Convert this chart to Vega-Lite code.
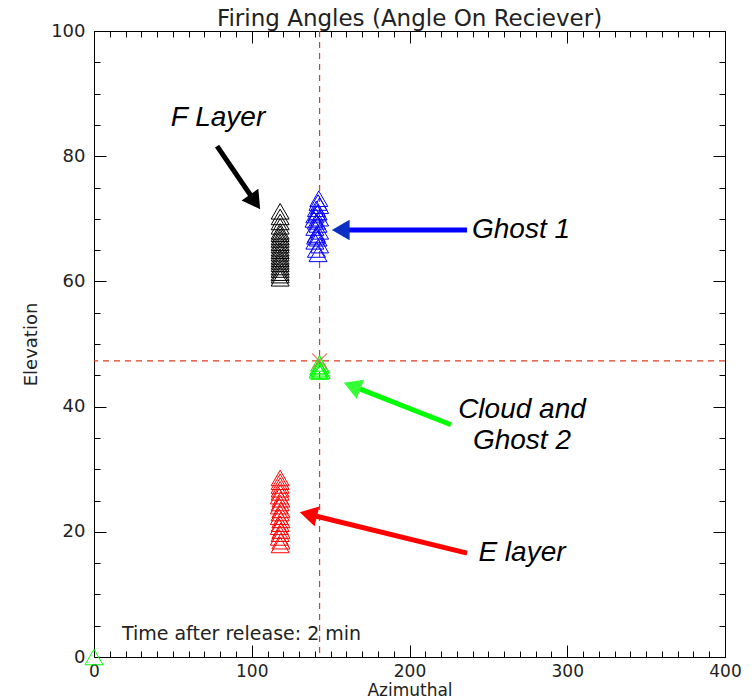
{
  "$schema": "https://vega.github.io/schema/vega-lite/v6.json",
  "width": 631,
  "height": 626,
  "autosize": {"type": "none"},
  "padding": {"left": 94, "top": 31, "right": 31, "bottom": 40},
  "background": "white",
  "title": {"text": "Firing Angles (Angle On Reciever)", "font": "DejaVu Sans", "fontSize": 23, "fontWeight": "normal", "color": "#222", "offset": -9},
  "config": {"view": {"stroke": "black", "strokeWidth": 1}},
  "datasets": {
    "tri": [
      {"g": "F", "az": 118, "el": 60.5}, {"g": "F", "az": 118, "el": 61.0}, {"g": "F", "az": 118, "el": 61.4}, {"g": "F", "az": 118, "el": 61.9},
      {"g": "F", "az": 118, "el": 62.3}, {"g": "F", "az": 118, "el": 62.8}, {"g": "F", "az": 118, "el": 63.2}, {"g": "F", "az": 118, "el": 63.6},
      {"g": "F", "az": 118, "el": 64.0}, {"g": "F", "az": 118, "el": 64.5}, {"g": "F", "az": 118, "el": 64.9}, {"g": "F", "az": 118, "el": 65.3},
      {"g": "F", "az": 118, "el": 65.8}, {"g": "F", "az": 118, "el": 66.2}, {"g": "F", "az": 118, "el": 66.7}, {"g": "F", "az": 118, "el": 67.1},
      {"g": "F", "az": 118, "el": 67.6}, {"g": "F", "az": 118, "el": 68.0}, {"g": "F", "az": 118, "el": 68.8}, {"g": "F", "az": 118, "el": 69.5},
      {"g": "F", "az": 118, "el": 70.3}, {"g": "F", "az": 118, "el": 71.2},
      {"g": "G1", "az": 142, "el": 64.4}, {"g": "G1", "az": 141, "el": 65.1}, {"g": "G1", "az": 143, "el": 65.8}, {"g": "G1", "az": 140, "el": 66.4},
      {"g": "G1", "az": 142, "el": 66.9}, {"g": "G1", "az": 141, "el": 67.5}, {"g": "G1", "az": 143, "el": 68.0}, {"g": "G1", "az": 140, "el": 68.6},
      {"g": "G1", "az": 142, "el": 69.1}, {"g": "G1", "az": 141, "el": 69.6}, {"g": "G1", "az": 143, "el": 70.1}, {"g": "G1", "az": 140, "el": 70.6},
      {"g": "G1", "az": 142, "el": 71.1}, {"g": "G1", "az": 141, "el": 71.6}, {"g": "G1", "az": 143, "el": 72.1}, {"g": "G1", "az": 142, "el": 72.6},
      {"g": "G1", "az": 142.5, "el": 73.2}, {"g": "G1", "az": 140.5, "el": 67.2}, {"g": "G1", "az": 139.5, "el": 69.9}, {"g": "G1", "az": 141.5, "el": 70.9},
      {"g": "E", "az": 118, "el": 17.9}, {"g": "E", "az": 118.5, "el": 18.5}, {"g": "E", "az": 117.5, "el": 19.1}, {"g": "E", "az": 118, "el": 19.7},
      {"g": "E", "az": 118.5, "el": 20.2}, {"g": "E", "az": 117.5, "el": 20.8}, {"g": "E", "az": 118, "el": 21.3}, {"g": "E", "az": 118.5, "el": 21.9},
      {"g": "E", "az": 117.5, "el": 22.4}, {"g": "E", "az": 118, "el": 23.0}, {"g": "E", "az": 118.5, "el": 23.5}, {"g": "E", "az": 117.5, "el": 24.1},
      {"g": "E", "az": 118, "el": 24.6}, {"g": "E", "az": 118.5, "el": 25.2}, {"g": "E", "az": 117.5, "el": 25.7}, {"g": "E", "az": 118, "el": 26.3},
      {"g": "E", "az": 118, "el": 26.8}, {"g": "E", "az": 118, "el": 27.4}, {"g": "E", "az": 118, "el": 28.0}, {"g": "E", "az": 118, "el": 28.6},
      {"g": "C", "az": 143, "el": 45.6}, {"g": "C", "az": 142, "el": 45.8}, {"g": "C", "az": 144, "el": 45.7}, {"g": "C", "az": 143, "el": 46.0},
      {"g": "C", "az": 142.5, "el": 46.3}, {"g": "C", "az": 143.5, "el": 46.5}, {"g": "C", "az": 143, "el": 46.9}, {"g": "C", "az": 0, "el": 0}
    ]
  },
  "resolve": {"axis": {"x": "independent", "y": "independent"}},
  "layer": [
    {
      "data": {"values": [{"az": 143}]},
      "mark": {"type": "rule", "color": "#e33a22", "strokeWidth": 1.2, "strokeDash": [6, 5]},
      "encoding": {"x": {"field": "az", "type": "quantitative", "scale": {"domain": [0, 400], "nice": false, "zero": false}, "axis": null}}
    },
    {
      "data": {"values": [{"el": 47.3}]},
      "mark": {"type": "rule", "color": "#e33a22", "strokeWidth": 1.2, "strokeDash": [6, 5]},
      "encoding": {"y": {"field": "el", "type": "quantitative", "scale": {"domain": [0, 100], "nice": false, "zero": false}, "axis": null}}
    },
    {
      "data": {"name": "tri"},
      "mark": {"type": "point", "shape": "triangle-up", "filled": false, "strokeWidth": 1, "size": 324, "clip": false, "opacity": 1},
      "encoding": {
        "x": {"field": "az", "type": "quantitative", "scale": {"domain": [0, 400], "nice": false, "zero": false},
          "axis": {"orient": "bottom", "values": [0,10,20,30,40,50,60,70,80,90,100,110,120,130,140,150,160,170,180,190,200,210,220,230,240,250,260,270,280,290,300,310,320,330,340,350,360,370,380,390,400],
            "labelExpr": "datum.value % 100 === 0 ? datum.label : ''",
            "tickSize": {"condition": {"test": "datum.value % 100 === 0", "value": -12}, "value": -6},
            "tickColor": "black", "domainColor": "black", "grid": false, "labelFlush": false, "labelOverlap": false,
            "labelFont": "DejaVu Sans", "labelFontSize": 17, "labelColor": "#222", "labelPadding": 18,
            "title": "Azimuthal", "titleFont": "DejaVu Sans", "titleFontSize": 17, "titleFontWeight": "normal", "titleColor": "#222", "titlePadding": -3}},
        "y": {"field": "el", "type": "quantitative", "scale": {"domain": [0, 100], "nice": false, "zero": false},
          "axis": {"orient": "left", "values": [0,5,10,15,20,25,30,35,40,45,50,55,60,65,70,75,80,85,90,95,100],
            "labelExpr": "datum.value % 20 === 0 ? datum.label : ''",
            "tickSize": {"condition": {"test": "datum.value % 20 === 0", "value": -12}, "value": -6},
            "tickColor": "black", "domainColor": "black", "grid": false, "labelFlush": false, "labelOverlap": false,
            "labelFont": "DejaVu Sans", "labelFontSize": 18, "labelColor": "#222", "labelPadding": 21,
            "title": "Elevation", "titleFont": "DejaVu Sans", "titleFontSize": 18, "titleFontWeight": "normal", "titleColor": "#222", "titlePadding": 10}},
        "color": {"field": "g", "type": "nominal", "scale": {"domain": ["F", "G1", "E", "C"], "range": ["#000000", "#0000ff", "#ff0000", "#00ff00"]}, "legend": null}
      }
    },
    {
      "data": {"values": [{"az": 143, "el": 47.3}]},
      "mark": {"type": "point", "shape": "M-1,-1L1,1M-1,1L1,-1", "filled": false, "strokeWidth": 1.2, "size": 220, "color": "#e0705a", "opacity": 0.85},
      "encoding": {
        "x": {"field": "az", "type": "quantitative", "scale": {"domain": [0, 400], "nice": false, "zero": false},
          "axis": {"orient": "top", "values": [0,10,20,30,40,50,60,70,80,90,100,110,120,130,140,150,160,170,180,190,200,210,220,230,240,250,260,270,280,290,300,310,320,330,340,350,360,370,380,390,400],
            "labels": false, "title": null, "grid": false, "tickColor": "black", "domainColor": "black",
            "tickSize": {"condition": {"test": "datum.value % 100 === 0", "value": -12}, "value": -6}}},
        "y": {"field": "el", "type": "quantitative", "scale": {"domain": [0, 100], "nice": false, "zero": false},
          "axis": {"orient": "right", "values": [0,5,10,15,20,25,30,35,40,45,50,55,60,65,70,75,80,85,90,95,100],
            "labels": false, "title": null, "grid": false, "tickColor": "black", "domainColor": "black",
            "tickSize": {"condition": {"test": "datum.value % 20 === 0", "value": -12}, "value": -6}}}
      }
    },
    {
      "data": {"values": [{"az": 17.7, "el": 3.7, "label": "Time after release: 2 min"}]},
      "mark": {"type": "text", "align": "left", "baseline": "middle", "font": "DejaVu Sans", "fontSize": 19, "color": "#222"},
      "encoding": {
        "x": {"field": "az", "type": "quantitative", "axis": null},
        "y": {"field": "el", "type": "quantitative", "axis": null},
        "text": {"field": "label"}
      }
    },
    {
      "data": {"values": [
        {"label": "F Layer", "az": 78.6, "el": 86.1},
        {"label": "Ghost 1", "az": 270.7, "el": 68.2},
        {"label": "Cloud and", "az": 271.3, "el": 39.5},
        {"label": "Ghost 2", "az": 271.3, "el": 34.5},
        {"label": "E layer", "az": 271.3, "el": 16.6}
      ]},
      "mark": {"type": "text", "align": "center", "baseline": "middle", "font": "Liberation Sans", "fontSize": 28, "fontStyle": "italic", "color": "black"},
      "encoding": {
        "x": {"field": "az", "type": "quantitative", "axis": null},
        "y": {"field": "el", "type": "quantitative", "axis": null},
        "text": {"field": "label"}
      }
    },
    {
      "data": {"values": [
        {"arrow": "F", "az": 78.0, "el": 81.6, "az2": 102.1, "el2": 72.7},
        {"arrow": "G1", "az": 236.5, "el": 68.2, "az2": 156.4, "el2": 68.2},
        {"arrow": "C", "az": 226.3, "el": 37.1, "az2": 163.6, "el2": 43.3},
        {"arrow": "E", "az": 236.5, "el": 16.6, "az2": 135.9, "el2": 22.8}
      ]},
      "mark": {"type": "rule", "strokeWidth": 5},
      "encoding": {
        "x": {"field": "az", "type": "quantitative", "axis": null},
        "y": {"field": "el", "type": "quantitative", "axis": null},
        "x2": {"field": "az2"},
        "y2": {"field": "el2"},
        "color": {"field": "arrow", "type": "nominal", "scale": {"domain": ["F", "G1", "C", "E"], "range": ["#000000", "#0b2fc4", "#33ff33", "#ff0000"]}, "legend": null}
      }
    },
    {
      "data": {"values": [{"az": 102.1, "el": 72.7}]},
      "mark": {"type": "point", "shape": "triangle-right", "filled": true, "size": 420, "angle": 54.8, "color": "#000000", "opacity": 1},
      "encoding": {"x": {"field": "az", "type": "quantitative", "axis": null}, "y": {"field": "el", "type": "quantitative", "axis": null}}
    },
    {
      "data": {"values": [{"az": 156.4, "el": 68.2}]},
      "mark": {"type": "point", "shape": "triangle-right", "filled": true, "size": 420, "angle": 180, "color": "#0b2fc4", "opacity": 1},
      "encoding": {"x": {"field": "az", "type": "quantitative", "axis": null}, "y": {"field": "el", "type": "quantitative", "axis": null}}
    },
    {
      "data": {"values": [{"az": 163.6, "el": 43.3}]},
      "mark": {"type": "point", "shape": "triangle-right", "filled": true, "size": 420, "angle": 201.4, "color": "#33ff33", "opacity": 1},
      "encoding": {"x": {"field": "az", "type": "quantitative", "axis": null}, "y": {"field": "el", "type": "quantitative", "axis": null}}
    },
    {
      "data": {"values": [{"az": 135.9, "el": 22.8}]},
      "mark": {"type": "point", "shape": "triangle-right", "filled": true, "size": 420, "angle": 193.8, "color": "#ff0000", "opacity": 1},
      "encoding": {"x": {"field": "az", "type": "quantitative", "axis": null}, "y": {"field": "el", "type": "quantitative", "axis": null}}
    }
  ]
}
